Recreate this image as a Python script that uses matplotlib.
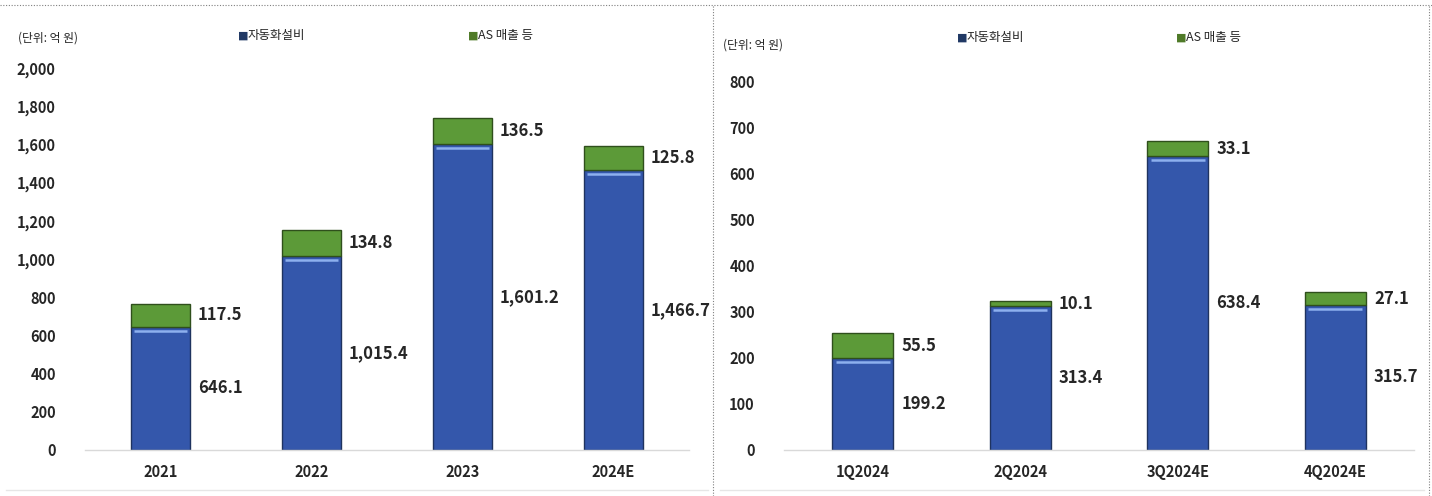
import matplotlib
matplotlib.use("Agg")
import matplotlib.pyplot as plt
import matplotlib.transforms as mtransforms
from matplotlib.lines import Line2D

plt.rcParams['font.family'] = ['Noto Sans CJK KR', 'DejaVu Sans']

# ---- data ----
years = ['2021', '2022', '2023', '2024E']
auto_year = [646.1, 1015.4, 1601.2, 1466.7]
as_year = [117.5, 134.8, 136.5, 125.8]

quarters = ['1Q2024', '2Q2024', '3Q2024E', '4Q2024E']
auto_q = [199.2, 313.4, 638.4, 315.7]
as_q = [55.5, 10.1, 33.1, 27.1]

left_ticks = [0, 200, 400, 600, 800, 1000, 1200, 1400, 1600, 1800, 2000]
right_ticks = [0, 100, 200, 300, 400, 500, 600, 700, 800]

unit_label = '(단위: 억 원)'
legend_auto = '자동화설비'
legend_as = 'AS 매출 등'

BLUE = '#3457ab'
BLUE_EDGE = '#1f335f'
HIGHLIGHT = '#8db0ee'
GREEN = '#5c9a38'
GREEN_EDGE = '#2f4f1c'
TEXT = '#262626'

fig = plt.figure(figsize=(14.32, 4.96), dpi=100)

def draw_panel(ax, cats, blue, green, ticks, ymax):
    x = list(range(len(cats)))
    w = 0.385
    ax.bar(x, blue, width=w, color=BLUE, edgecolor=BLUE_EDGE, linewidth=1.0, zorder=2)
    ax.bar(x, green, width=w, bottom=blue, color=GREEN, edgecolor=GREEN_EDGE, linewidth=1.0, zorder=2)
    off = mtransforms.offset_copy(ax.transData, fig=fig, x=0, y=-4, units='dots')
    for i, b in enumerate(blue):
        ax.plot([i - w / 2 + 0.02, i + w / 2 - 0.02], [b, b], color=HIGHLIGHT, lw=1.8,
                transform=off, zorder=3, solid_capstyle='butt')
    for i, (b, g) in enumerate(zip(blue, green)):
        ax.annotate(f'{b:,.1f}', xy=(i + w / 2, b / 2), xytext=(6, 0), textcoords='offset points',
                    ha='left', va='center', fontsize=12, fontweight='bold', color=TEXT)
        ax.annotate(f'{g:,.1f}', xy=(i + w / 2, b + g / 2), xytext=(6, 0), textcoords='offset points',
                    ha='left', va='center', fontsize=12, fontweight='bold', color=TEXT)
    ax.set_xlim(-0.5, len(cats) - 0.5)
    ax.set_ylim(0, ymax)
    ax.set_yticks(ticks)
    ax.set_yticklabels([f'{t:,}' for t in ticks], fontsize=10.5, fontweight='bold', color=TEXT)
    ax.set_xticks(x)
    ax.set_xticklabels(cats, fontsize=10.5, fontweight='bold', color=TEXT)
    for s in ['top', 'right', 'left']:
        ax.spines[s].set_visible(False)
    ax.spines['bottom'].set_color('#d9d9d9')
    ax.spines['bottom'].set_linewidth(1.0)
    ax.tick_params(axis='both', length=0)
    ax.tick_params(axis='y', pad=21)
    ax.tick_params(axis='x', pad=10)
    ax.set_facecolor('none')

axL = fig.add_axes([85 / 1432, 1 - 450 / 496, 604 / 1432, 382 / 496])
draw_panel(axL, years, auto_year, as_year, left_ticks, 2000)
axR = fig.add_axes([784 / 1432, 1 - 450 / 496, 630 / 1432, 368 / 496])
draw_panel(axR, quarters, auto_q, as_q, right_ticks, 800)

def fig_text(px, py, s, color=TEXT, size=8.5):
    fig.text(px / 1432, 1 - py / 496, s, fontsize=size, color=color, ha='left', va='center')

def legend_item(px, py, s, color):
    fig.text(px / 1432, 1 - py / 496, '■', fontsize=8, color=color, ha='left', va='center',
             family=['DejaVu Sans'])
    fig.text((px + 10) / 1432, 1 - py / 496, s, fontsize=9, color=TEXT, ha='left', va='center')

fig_text(18, 38, unit_label)
legend_item(238, 36, legend_auto, '#203864')
legend_item(468, 36, legend_as, '#4f7a28')
fig_text(723, 45, unit_label)
legend_item(957, 38, legend_auto, '#203864')
legend_item(1176, 38, legend_as, '#4f7a28')

# dotted frame
dot = dict(color='#808080', lw=0.8, linestyle=(0, (1, 1.5)), transform=fig.transFigure)
fig.add_artist(Line2D([0, 1], [1 - 5 / 496, 1 - 5 / 496], **dot))
fig.add_artist(Line2D([713 / 1432, 713 / 1432], [0, 1 - 5 / 496], **dot))
fig.add_artist(Line2D([1429 / 1432, 1429 / 1432], [0, 1 - 5 / 496], **dot))
solid = dict(color='#e6e6e6', lw=1.0, transform=fig.transFigure)
fig.add_artist(Line2D([6 / 1432, 708 / 1432], [1 - 490 / 496, 1 - 490 / 496], **solid))
fig.add_artist(Line2D([720 / 1432, 1424 / 1432], [1 - 490 / 496, 1 - 490 / 496], **solid))

fig.savefig('out.png', dpi=100, facecolor='white')
